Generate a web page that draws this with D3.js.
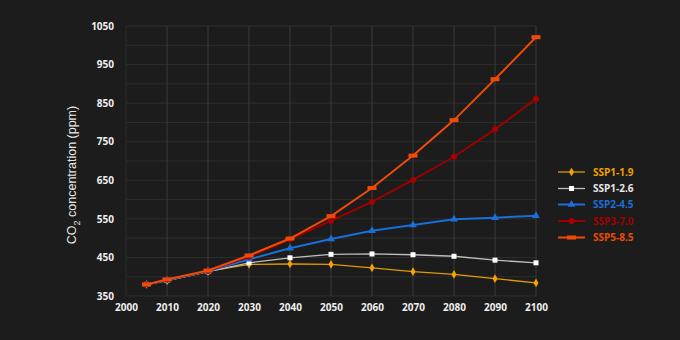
<!DOCTYPE html>
<html><head><meta charset="utf-8">
<script src="https://cdn.jsdelivr.net/npm/d3@7"></script>
<style>html,body{margin:0;padding:0;background:#1c1c1c;}svg{display:block;}</style>
</head><body>
<svg id="chart" width="680" height="340"></svg>
<script>
const years = [2005, 2010, 2020, 2030, 2040, 2050, 2060, 2070, 2080, 2090, 2100];
const ssp119 = [380, 390, 414, 432, 433, 432, 423, 413, 406, 395, 384];
const ssp126 = [380, 390, 413, 436, 449, 458, 459, 457, 453, 443, 436];
const ssp245 = [380, 391, 414, 445, 474, 498, 519, 534, 549, 553, 558];
const ssp370 = [380, 392, 415, 452, 497, 545, 594, 651, 711, 782, 861];
const ssp585 = [380, 393, 416, 455, 499, 557, 630, 714, 806, 912, 1021];
const seriesNames = ["SSP1-1.9", "SSP1-2.6", "SSP2-4.5", "SSP3-7.0", "SSP5-8.5"];
const xTicks = [2000, 2010, 2020, 2030, 2040, 2050, 2060, 2070, 2080, 2090, 2100];
const yTicks = [350, 450, 550, 650, 750, 850, 950, 1050];

const seriesValues = [ssp119, ssp126, ssp245, ssp370, ssp585];
const styles = [
  {line:"#e39a00", fill:"#f5a300", text:"#f0a000", marker:"diamond"},
  {line:"#bdbdbd", fill:"#ffffff", text:"#e6e6e6", marker:"square"},
  {line:"#1a6fd8", fill:"#1a6fd8", text:"#1a6fd8", marker:"triangle"},
  {line:"#9a0000", fill:"#a80000", text:"#a00000", marker:"circle"},
  {line:"#f04a0a", fill:"#f04a0a", text:"#f04a0a", marker:"bar"}
];

const svg = d3.select("#chart");
const m = {l:126, r:144, t:26, b:44};
const W = 680, H = 340;
const x = d3.scaleLinear().domain([2000, 2100]).range([m.l, W - m.r]);
const y = d3.scaleLinear().domain([350, 1050]).range([H - m.b, m.t]);

svg.append("rect").attr("width", W).attr("height", H).attr("fill", "#1c1c1c");

// horizontal grid (every 50)
const hGrid = d3.range(350, 1051, 50);
svg.append("g").selectAll("line").data(hGrid).join("line")
  .attr("x1", x(2000)).attr("x2", x(2100))
  .attr("y1", d => y(d)).attr("y2", d => y(d))
  .attr("stroke", "#2d2d2d").attr("stroke-width", 1);
// vertical grid
svg.append("g").selectAll("line").data(xTicks).join("line")
  .attr("x1", d => x(d)).attr("x2", d => x(d))
  .attr("y1", y(350)).attr("y2", y(1050))
  .attr("stroke", d => d === 2000 ? "#2d2d2d" : "#3b3b3b").attr("stroke-width", 1);

// axes
const fontFam = "'Open Sans', 'Noto Sans', sans-serif";
const xAxis = svg.append("g").attr("transform", `translate(0,${y(350)})`)
  .call(d3.axisBottom(x).tickValues(xTicks).tickFormat(d3.format("d")).tickSize(0).tickPadding(8));
const yAxis = svg.append("g").attr("transform", `translate(${x(2000)},0)`)
  .call(d3.axisLeft(y).tickValues(yTicks).tickFormat(d3.format("d")).tickSize(0).tickPadding(12));
[xAxis, yAxis].forEach(a => {
  a.select(".domain").remove();
  a.selectAll("text").attr("fill", "#eeeeee").style("font-family", fontFam)
    .style("font-size", "10px").style("font-weight", "700");
});

// y title
const yt = svg.append("text")
  .attr("transform", `translate(76,${(y(350)+y(1050))/2 + 14}) rotate(-90)`)
  .attr("text-anchor", "middle").attr("fill", "#e6e6e6")
  .style("font-family", "'Liberation Sans', Arial, sans-serif").style("font-size", "12.5px");
yt.append("tspan").text("CO");
yt.append("tspan").text("2").attr("font-size", "9px").attr("dy", 4);
yt.append("tspan").text(" concentration (ppm)").attr("dy", -4);

function drawMarker(g, type, cx, cy, fill) {
  if (type === "diamond") {
    g.append("path").attr("d", d3.symbol().type(d3.symbolDiamond).size(22)()).attr("transform", `translate(${cx},${cy})`).attr("fill", fill);
  } else if (type === "square") {
    g.append("rect").attr("x", cx - 2.5).attr("y", cy - 2.5).attr("width", 5).attr("height", 5).attr("fill", fill);
  } else if (type === "triangle") {
    g.append("path").attr("d", d3.symbol().type(d3.symbolTriangle).size(26)()).attr("transform", `translate(${cx},${cy})`).attr("fill", fill);
  } else if (type === "circle") {
    g.append("circle").attr("cx", cx).attr("cy", cy).attr("r", 3).attr("fill", fill);
  } else if (type === "bar") {
    g.append("rect").attr("x", cx - 4.5).attr("y", cy - 2).attr("width", 9).attr("height", 4).attr("fill", fill);
  }
}

const line = d3.line().x((d, i) => x(years[i])).y(d => y(d));
seriesValues.forEach((vals, si) => {
  const st = styles[si];
  const g = svg.append("g");
  g.append("path").attr("d", line(vals)).attr("fill", "none")
    .attr("stroke", st.line).attr("stroke-width", si >= 2 ? 2 : 1.3);
  vals.forEach((v, i) => drawMarker(g, st.marker, x(years[i]), y(v), st.fill));
});

// legend
const legY = [172, 188.5, 204.5, 221, 237.5];
seriesNames.forEach((name, si) => {
  const st = styles[si];
  const g = svg.append("g");
  const ly = legY[si];
  g.append("line").attr("x1", 558).attr("x2", 585).attr("y1", ly).attr("y2", ly)
    .attr("stroke", st.line).attr("stroke-width", si >= 2 ? 2 : 1.3);
  drawMarker(g, st.marker, 571.5, ly, st.fill);
  g.append("text").attr("x", 593).attr("y", ly).attr("dy", "0.35em")
    .attr("fill", st.text).style("font-family", fontFam)
    .style("font-size", "10px").style("font-weight", "700").text(name);
});
</script>
</body></html>
